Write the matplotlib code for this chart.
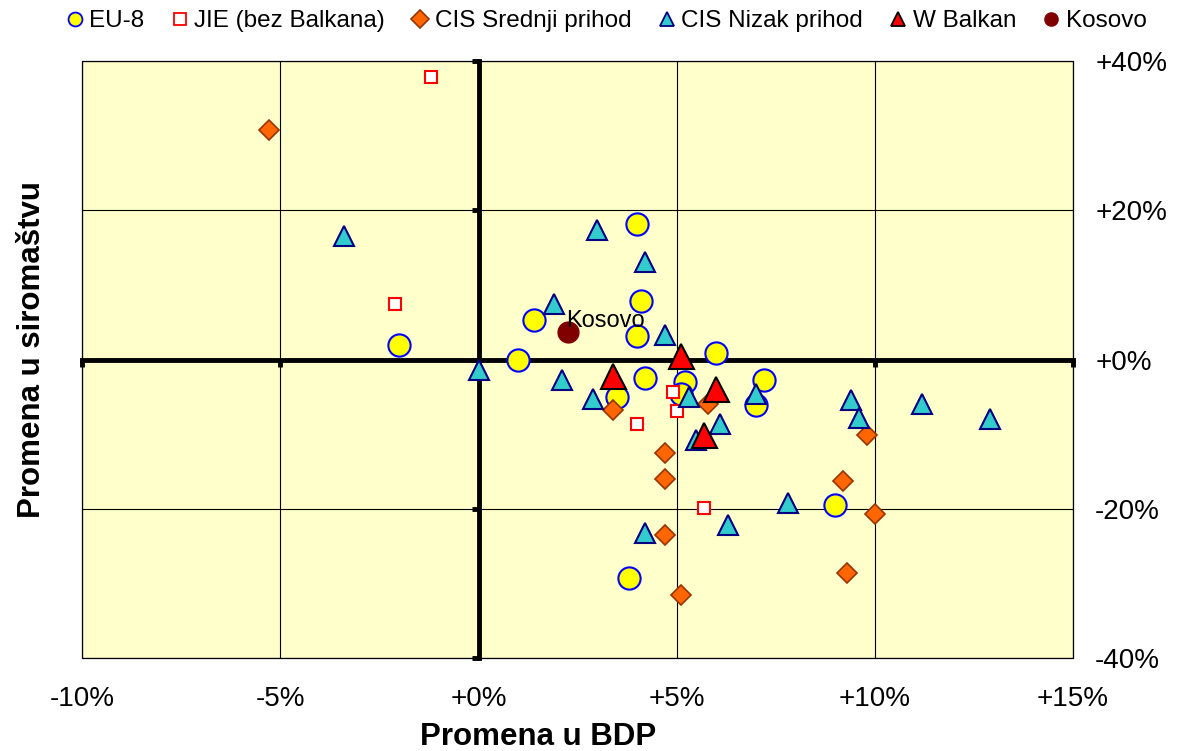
import matplotlib
matplotlib.use('Agg')
import matplotlib.pyplot as plt
from matplotlib.lines import Line2D
from matplotlib.patches import Rectangle

plt.rcParams['font.family'] = ['Liberation Sans', 'DejaVu Sans']

# ---------------- data (GDP change %, poverty change %) ----------------
eu8_x = [-2.0, 1.0, 1.4, 4.0, 4.1, 4.0, 4.2, 3.5, 5.2, 5.1, 6.0, 7.2, 7.0, 9.0, 3.8]
eu8_y = [1.9, 0.0, 5.3, 18.1, 7.8, 3.2, -2.5, -5.0, -3.0, -4.6, 0.9, -2.7, -6.1, -19.5, -29.3]

jie_x = [-1.2, -2.1, 4.9, 5.0, 4.0, 5.7]
jie_y = [37.9, 7.5, -4.3, -6.9, -8.6, -19.9]

cis_mid_x = [-5.3, 3.4, 5.8, 4.7, 4.7, 4.7, 5.1, 9.3, 9.2, 9.8, 10.0]
cis_mid_y = [30.8, -6.7, -6.0, -12.5, -16.0, -23.5, -31.6, -28.6, -16.3, -10.1, -20.7]

cis_low_x = [-3.4, 0.0, 1.9, 3.0, 4.2, 4.7, 2.1, 2.9, 5.3, 7.0, 6.1, 5.5, 7.8, 6.3, 4.2,
             9.4, 9.6, 11.2, 12.9]
cis_low_y = [16.6, -1.4, 7.4, 17.4, 13.0, 3.3, -2.8, -5.3, -5.0, -4.6, -8.6, -10.8, -19.2,
             -22.2, -23.2, -5.4, -7.9, -5.9, -8.0]

wb_x = [5.1, 3.4, 6.0, 5.7]
wb_y = [0.5, -2.2, -4.0, -10.1]

kosovo_x = [2.25]
kosovo_y = [3.65]

series_names = ['EU-8', 'JIE (bez Balkana)', 'CIS Srednji prihod', 'CIS Nizak prihod',
                'W Balkan', 'Kosovo']

xticks = [-10, -5, 0, 5, 10, 15]
xtick_labels = ['-10%', '-5%', '+0%', '+5%', '+10%', '+15%']
yticks = [-40, -20, 0, 20, 40]
ytick_labels = ['-40%', '-20%', '+0%', '+20%', '+40%']

x_title = 'Promena u BDP'
y_title = 'Promena u siromaštvu'

# ---------------- figure ----------------
fig = plt.figure(figsize=(11.8, 7.51), dpi=100)
ax = fig.add_axes([0.0697, 0.1238, 0.8396, 0.795])
ax.set_facecolor('#FFFFCC')
ax.set_xlim(xticks[0], xticks[-1])
ax.set_ylim(yticks[0], yticks[-1])
ax.set_xticks(xticks)
ax.set_yticks(yticks)
ax.set_axisbelow(True)
ax.grid(True, color='black', lw=0.8)

# thick axes crossing at zero
for side in ['left', 'bottom']:
    ax.spines[side].set_position(('data', 0))
    ax.spines[side].set_linewidth(3.5)
    ax.spines[side].set_zorder(2)
for side in ['top', 'right']:
    ax.spines[side].set_visible(False)
ax.tick_params(axis='both', direction='out', length=5, width=3.5,
               labelleft=False, labelbottom=False)
ax.add_patch(Rectangle((0, 0), 1, 1, transform=ax.transAxes, fill=False,
                       lw=0.9, edgecolor='black', zorder=1.5, clip_on=False))

styles = [
    dict(marker='o', ms=16, mfc='#FFFF00', mec='#0000FF', mew=1.5),
    dict(marker='s', ms=8, mfc='white', mec='#FF0000', mew=1.5),
    dict(marker='D', ms=10, mfc='#FF6600', mec='#993300', mew=1.2),
    dict(marker='^', ms=14, mfc='#33CCCC', mec='#000080', mew=1.5),
    dict(marker='^', ms=18, mfc='#FF0000', mec='black', mew=1.5),
    dict(marker='o', ms=15, mfc='#800000', mec='#800000', mew=1.0),
]
data = [(eu8_x, eu8_y), (jie_x, jie_y), (cis_mid_x, cis_mid_y),
        (cis_low_x, cis_low_y), (wb_x, wb_y), (kosovo_x, kosovo_y)]
for i, ((xs, ys), st) in enumerate(zip(data, styles)):
    ax.plot(xs, ys, ls='none', zorder=3 + i * 0.1, clip_on=False, **st)

ax.annotate('Kosovo', (kosovo_x[0], kosovo_y[0]), xytext=(-1, 8),
            textcoords='offset points', ha='left', va='center', fontsize=17,
            zorder=5)

# tick labels at bottom and right
secx = ax.secondary_xaxis('bottom')
secx.set_xticks(xticks, labels=xtick_labels)
secx.tick_params(length=0, pad=20, labelsize=20)
secx.spines['bottom'].set_visible(False)

secy = ax.secondary_yaxis('right')
secy.set_yticks(yticks, labels=ytick_labels)
secy.tick_params(length=0, pad=16, labelsize=20)
secy.spines['right'].set_visible(False)

fig.text(0.027, 0.534, y_title, rotation=90, ha='center', va='center',
         fontsize=22.5, fontweight='bold')
fig.text(0.456, 0.008, x_title, ha='center', va='baseline',
         fontsize=22.5, fontweight='bold')

# legend
leg_sizes = [10, 8.5, 9.5, 10.5, 10.5, 9.5]
handles = []
for st, s in zip(styles, leg_sizes):
    st2 = dict(st)
    st2['ms'] = s
    st2['mew'] = min(st['mew'], 1.3)
    handles.append(Line2D([], [], ls='none', **st2))
fig.legend(handles, series_names, loc='center left', bbox_to_anchor=(0.056, 0.972),
           ncol=6, frameon=False, fontsize=17.5, handlelength=0.7, handletextpad=0.25,
           columnspacing=1.1, borderpad=0, borderaxespad=0)

fig.savefig('out.png', dpi=100)
